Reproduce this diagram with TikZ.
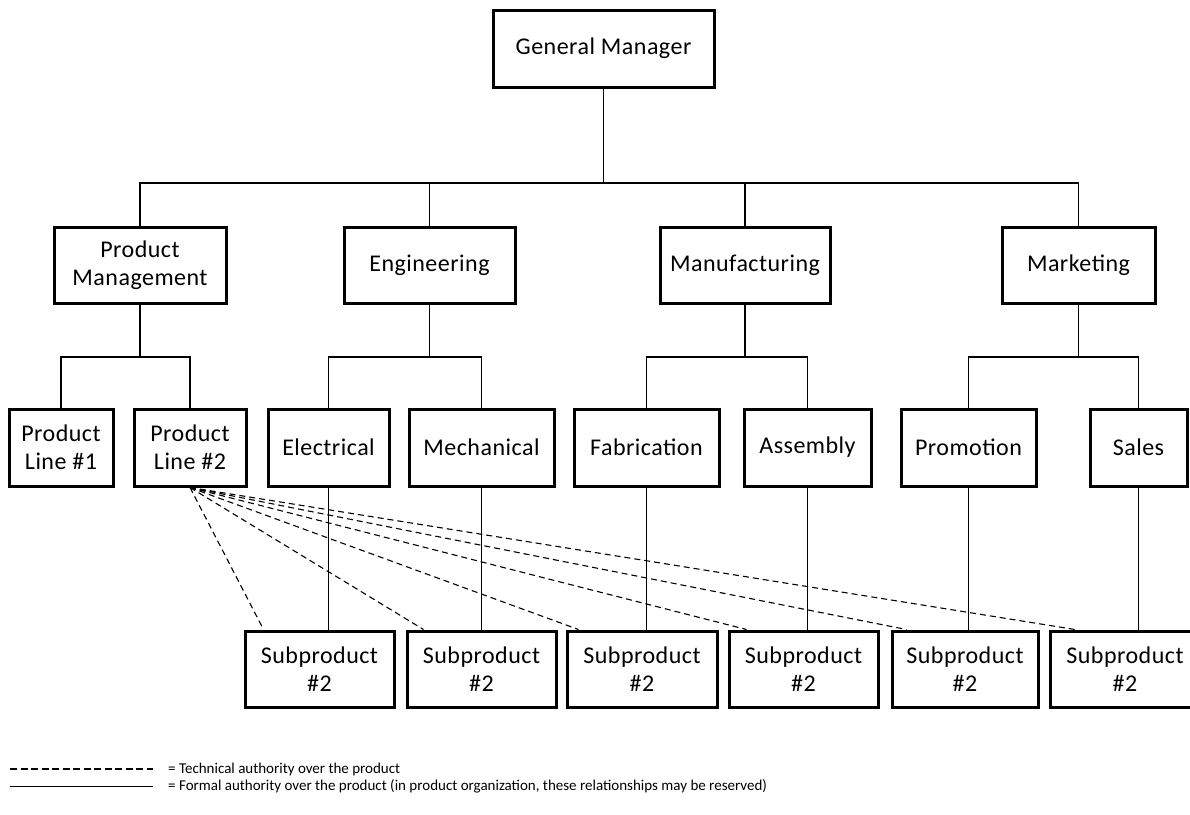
\documentclass[tikz,border=0pt]{standalone}
\usepackage{fontspec}
\setmainfont{Carlito}
\newfontfamily\boxfont[LetterSpace=2]{Carlito}
\usetikzlibrary{calc}
\begin{document}
\begin{tikzpicture}[x=1pt,y=-1pt,
  box/.style={draw, line width=3pt, inner sep=0pt, align=center,
    font=\boxfont\fontsize{24}{28}\selectfont, fill=white},
  link/.style={line width=1.2pt},
  tech/.style={line width=1.1pt, dash pattern=on 6pt off 4pt},
  keytext/.style={anchor=west, inner sep=0pt, font=\fontsize{15}{18}\selectfont}]
\useasboundingbox (0,0) rectangle (1190,814);
\fill[white] (0,0) rectangle (1190,814);
\clip (0,0) rectangle (1190,814);

% top level
\node[box, minimum width=221pt, minimum height=77pt] (gm) at (603.5,48.5) {General Manager};

% departments
\node[box, minimum width=172pt, minimum height=76pt] (pm)  at (140,265)   {Product\\Management};
\node[box, minimum width=171pt, minimum height=76pt] (eng) at (429.5,265) {Engineering};
\node[box, minimum width=170pt, minimum height=76pt] (man) at (745,265)   {Manufacturing};
\node[box, minimum width=153pt, minimum height=76pt] (mkt) at (1078.5,265) {Marketing};

% sections
\node[box, minimum width=104pt, minimum height=77pt] (pl1)   at (61,447.5)    {Product\\Line \#1};
\node[box, minimum width=112pt, minimum height=77pt] (pl2)   at (190,447.5)   {Product\\Line \#2};
\node[box, minimum width=121pt, minimum height=77pt] (elec)  at (328.5,447.5) {Electrical};
\node[box, minimum width=145pt, minimum height=77pt] (mech)  at (481.5,447.5) {Mechanical};
\node[box, minimum width=145pt, minimum height=77pt] (fab)   at (646.5,447.5) {Fabrication};
\node[box, minimum width=127pt, minimum height=77pt] (asm)   at (807.5,447.5) {Assembly};
\node[box, minimum width=135pt, minimum height=77pt] (promo) at (968.5,447.5) {Promotion};
\node[box, minimum width=97pt,  minimum height=77pt] (sales) at (1138.5,447.5) {Sales};

% subproducts
\node[box, minimum width=149pt, minimum height=76pt] (s1) at (319.5,669) {Subproduct\\\#2};
\node[box, minimum width=149pt, minimum height=76pt] (s2) at (481.5,669) {Subproduct\\\#2};
\node[box, minimum width=150pt, minimum height=76pt] (s3) at (642,669)   {Subproduct\\\#2};
\node[box, minimum width=149pt, minimum height=76pt] (s4) at (803.5,669) {Subproduct\\\#2};
\node[box, minimum width=146pt, minimum height=76pt] (s5) at (965,669)   {Subproduct\\\#2};
\node[box, minimum width=149pt, minimum height=76pt] (s6) at (1125,669)  {Subproduct\\\#2};

% bus lines
\coordinate (busA) at (0,183);
\coordinate (busB) at (0,357);

% formal authority: general manager to departments
\draw[link] (gm.south) -- (gm.south |- busA);
\draw[link] (pm.north) -- (pm.north |- busA) -- (mkt.north |- busA) -- (mkt.north);
\draw[link] (eng.north) -- (eng.north |- busA);
\draw[link] (man.north) -- (man.north |- busA);

% departments to sections
\draw[link] (pm.south) -- (pm.south |- busB);
\draw[link] (pl1.north) -- (pl1.north |- busB) -- (pl2.north |- busB) -- (pl2.north);
\draw[link] (eng.south) -- (eng.south |- busB);
\draw[link] (elec.north) -- (elec.north |- busB) -- (mech.north |- busB) -- (mech.north);
\draw[link] (man.south) -- (man.south |- busB);
\draw[link] (fab.north) -- (fab.north |- busB) -- (asm.north |- busB) -- (asm.north);
\draw[link] (mkt.south) -- (mkt.south |- busB);
\draw[link] (promo.north) -- (promo.north |- busB) -- (sales.north |- busB) -- (sales.north);

% sections to subproducts
\draw[link] (elec.south)  -- (elec.south |- s1.north);
\draw[link] (mech.south)  -- (mech.south |- s2.north);
\draw[link] (fab.south)   -- (fab.south |- s3.north);
\draw[link] (asm.south)   -- (asm.south |- s4.north);
\draw[link] (promo.south) -- (promo.south |- s5.north);
\draw[link] (sales.south) -- (sales.south |- s6.north);

% technical authority from product line #2
\draw[tech] (pl2.south) -- ($(s1.north west)+(20,0)$);
\draw[tech] (pl2.south) -- ($(s2.north west)+(18,0)$);
\draw[tech] (pl2.south) -- ($(s3.north west)+(13,0)$);
\draw[tech] (pl2.south) -- ($(s4.north west)+(19,0)$);
\draw[tech] (pl2.south) -- ($(s5.north west)+(16,0)$);
\draw[tech] (pl2.south) -- ($(s6.north west)+(26,0)$);

% key
\coordinate (k1a) at (10,769);
\coordinate (k1b) at (153,769);
\coordinate (k2a) at (10,786);
\coordinate (k2b) at (153,786);
\draw[line width=1.2pt, dash pattern=on 7pt off 3.5pt] (k1a) -- (k1b);
\draw[line width=1pt] (k2a) -- (k2b);
\node[keytext] (key1) at (168,769) {= Technical authority over the product};
\node[keytext] (key2) at (168,786) {= Formal authority over the product (in product organization, these relationships may be reserved)};
\end{tikzpicture}
\end{document}
